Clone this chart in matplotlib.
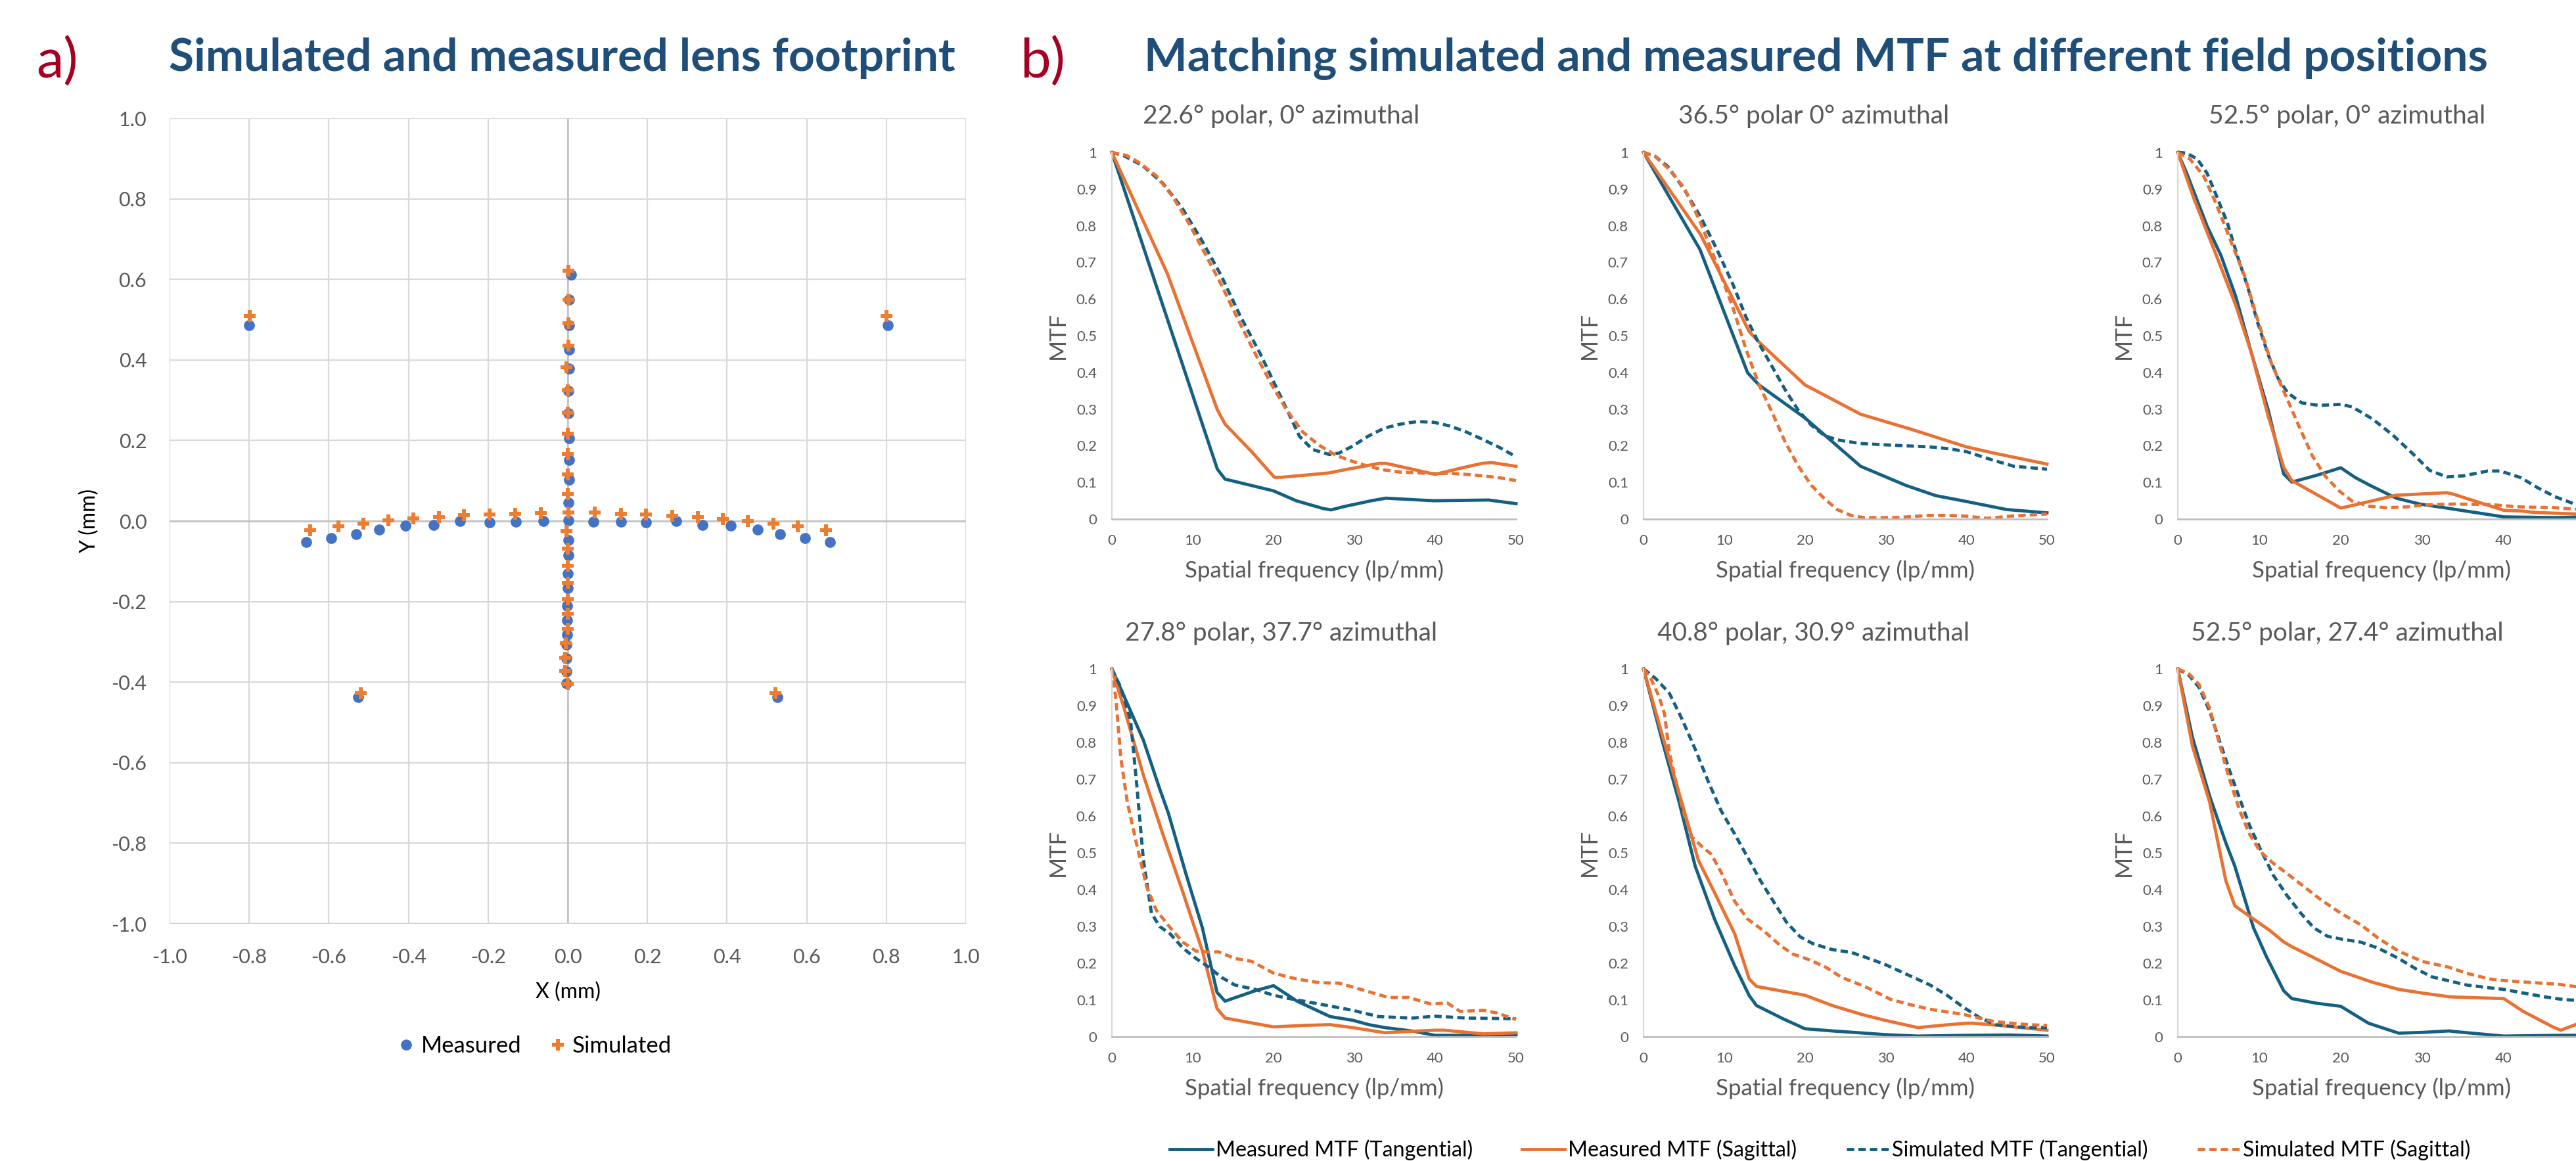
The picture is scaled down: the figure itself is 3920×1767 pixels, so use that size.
import matplotlib
matplotlib.use("Agg")
import matplotlib.pyplot as plt

plt.rcParams['font.family'] = ['Lato', 'DejaVu Sans']

# ---------------- Panel a data (lens footprint, mm) ----------------
MEAS_CORNER_X = [-0.801, 0.804, -0.526, 0.527]
MEAS_CORNER_Y = [0.486, 0.486, -0.438, -0.438]
SIM_CORNER_X = [-0.799, 0.800, -0.519, 0.521]
SIM_CORNER_Y = [0.509, 0.509, -0.428, -0.428]

MEAS_ROW_X = [-0.656, -0.594, -0.532, -0.474, -0.407, -0.336, -0.270, -0.196, -0.130, -0.061,
              0.064, 0.133, 0.197, 0.273, 0.338, 0.409, 0.477, 0.533, 0.596, 0.658]
MEAS_ROW_Y = [-0.053, -0.043, -0.033, -0.022, -0.012, -0.010, 0.000, -0.004, -0.002, 0.000,
              -0.001, -0.002, -0.004, 0.000, -0.010, -0.012, -0.022, -0.033, -0.043, -0.053]
SIM_ROW_X = [-0.647, -0.576, -0.513, -0.450, -0.387, -0.324, -0.261, -0.196, -0.132, -0.068,
             0.068, 0.133, 0.197, 0.262, 0.326, 0.390, 0.452, 0.516, 0.578, 0.649]
SIM_ROW_Y = [-0.023, -0.013, -0.007, 0.002, 0.007, 0.010, 0.014, 0.016, 0.018, 0.019,
             0.021, 0.018, 0.017, 0.013, 0.010, 0.005, 0.000, -0.007, -0.013, -0.023]

MEAS_COL_X = [0.008, 0.003, 0.003, 0.003, 0.003, 0.002, 0.002, 0.003, 0.004, 0.004, 0.002, 0.002,
              0.001, 0.001, 0.000, 0.000, -0.001, -0.001, -0.002, -0.003, -0.003, -0.004, -0.003]
MEAS_COL_Y = [0.611, 0.550, 0.486, 0.425, 0.379, 0.323, 0.268, 0.206, 0.151, 0.102, 0.046, 0.002,
              -0.047, -0.085, -0.131, -0.166, -0.210, -0.247, -0.283, -0.307, -0.341, -0.373, -0.403]
SIM_COL_X = [0.002, 0.001, 0.001, 0.001, -0.003, 0.000, 0.000, 0.000, 0.000, 0.000, 0.000, 0.001,
             -0.004, 0.000, 0.000, 0.000, 0.000, 0.000, 0.000, -0.005, -0.006, -0.007, 0.000]
SIM_COL_Y = [0.621, 0.550, 0.491, 0.435, 0.381, 0.324, 0.269, 0.217, 0.167, 0.116, 0.067, 0.021,
             -0.025, -0.069, -0.111, -0.153, -0.194, -0.230, -0.268, -0.304, -0.339, -0.372, -0.404]

AXIS_TICKS_A = [-1.0, -0.8, -0.6, -0.4, -0.2, 0.0, 0.2, 0.4, 0.6, 0.8, 1.0]

# ---------------- Panel b data (MTF vs spatial frequency, lp/mm) ----------------
TITLES = ["22.6° polar, 0° azimuthal", "36.5° polar 0° azimuthal", "52.5° polar, 0° azimuthal",
          "27.8° polar, 37.7° azimuthal", "40.8° polar, 30.9° azimuthal", "52.5° polar, 27.4° azimuthal"]
SERIES_NAMES = ["Measured MTF (Tangential)", "Measured MTF (Sagittal)",
                "Simulated MTF (Tangential)", "Simulated MTF (Sagittal)"]

# Field 1: 22.6 polar, 0 azimuthal
P1_MT_X = [0, 13.05, 14.0, 20, 22.8, 26.1, 27.1, 28.7, 32.1, 33.9, 39.8, 46.6, 50]
P1_MT_Y = [1.0, 0.136, 0.109, 0.077, 0.050, 0.029, 0.025, 0.034, 0.050, 0.057, 0.050, 0.052, 0.042]
P1_MS_X = [0, 6.87, 13.05, 14.0, 17.2, 20.1, 21, 24, 26.9, 28.7, 33.1, 33.9, 40, 43, 45.8, 47, 50]
P1_MS_Y = [1, 0.669, 0.298, 0.259, 0.186, 0.114, 0.114, 0.12, 0.126, 0.134, 0.152, 0.152, 0.122, 0.138, 0.152, 0.154, 0.144]
P1_ST_X = [0, 1.4, 3.8, 6.3, 8.7, 11.1, 13.5, 15.9, 18.4, 20.8, 23.2, 24.8, 26.9, 28.1, 29.7, 31.7, 33.7,
           35.7, 37.8, 39.8, 41.8, 43.8, 45.8, 47.9, 50]
P1_ST_Y = [1, 0.992, 0.964, 0.916, 0.848, 0.761, 0.665, 0.553, 0.449, 0.338, 0.226, 0.190, 0.176, 0.180,
           0.198, 0.226, 0.248, 0.259, 0.266, 0.264, 0.254, 0.238, 0.218, 0.196, 0.170]
P1_SS_X = [0, 1.8, 3.4, 5.5, 7.5, 9.5, 11.5, 13.5, 15.5, 17.6, 19.6, 21.6, 23.6, 25.6, 27.7, 29.7, 31.7,
           33.7, 35.7, 37.8, 39.8, 41.8, 43.8, 45.8, 47.9, 50]
P1_SS_Y = [1, 0.992, 0.972, 0.936, 0.880, 0.808, 0.725, 0.641, 0.549, 0.457, 0.373, 0.298, 0.238, 0.202,
           0.174, 0.158, 0.144, 0.134, 0.128, 0.126, 0.124, 0.125, 0.122, 0.118, 0.113, 0.105]

# Field 2: 36.5 polar, 0 azimuthal
P2_MT_X = [0, 7.0, 12.9, 14.3, 20, 26.9, 32.5, 36.2, 40, 45, 50]
P2_MT_Y = [1, 0.735, 0.399, 0.366, 0.276, 0.144, 0.092, 0.064, 0.048, 0.026, 0.017]
P2_MS_X = [0, 7.1, 13.1, 14.3, 20, 26.9, 33.3, 40, 43.4, 50]
P2_MS_Y = [1, 0.775, 0.511, 0.483, 0.366, 0.286, 0.244, 0.197, 0.180, 0.150]
P2_ST_X = [0, 1.4, 3.0, 5.05, 7.1, 9.1, 11.1, 12.7, 14.3, 15.96, 17.6, 19.2, 20.8, 22.4, 24.0, 26.9, 31.3,
           35.4, 37.8, 40, 43.4, 45.9, 50]
P2_ST_Y = [1, 0.990, 0.962, 0.899, 0.823, 0.735, 0.639, 0.551, 0.479, 0.415, 0.351, 0.296, 0.256, 0.228,
           0.216, 0.206, 0.201, 0.197, 0.192, 0.184, 0.160, 0.144, 0.136]
P2_SS_X = [0, 1.4, 3.0, 5.05, 7.1, 9.1, 11.1, 12.7, 14.3, 16.0, 17.6, 19.2, 20.8, 22.4, 24.0, 25.7, 27.3,
           31.3, 35.4, 37.8, 40, 42.6, 45.5, 50]
P2_SS_Y = [1, 0.990, 0.958, 0.903, 0.807, 0.695, 0.575, 0.463, 0.367, 0.288, 0.208, 0.144, 0.092, 0.056,
           0.026, 0.010, 0.004, 0.004, 0.010, 0.010, 0.008, 0.002, 0.008, 0.014]

# Field 3: 52.5 polar, 0 azimuthal
P3_MT_X = [0, 1.1, 3.6, 5.3, 7.1, 9.0, 11.1, 13.0, 14.0, 16.0, 17.3, 20, 21.8, 23.5, 26.8, 29.7, 33.0,
           35.9, 40, 46.3, 50]
P3_MT_Y = [1, 0.943, 0.799, 0.719, 0.608, 0.456, 0.297, 0.123, 0.101, 0.113, 0.121, 0.140, 0.113, 0.093,
           0.057, 0.041, 0.030, 0.020, 0.006, 0.004, 0.006]
P3_MS_X = [0, 1.9, 3.6, 5.3, 7.1, 9, 11.1, 13.0, 14.0, 20, 21.4, 26.8, 33.0, 33.8, 40, 42.1, 43.8, 50]
P3_MS_Y = [1, 0.879, 0.783, 0.687, 0.584, 0.456, 0.281, 0.141, 0.105, 0.030, 0.037, 0.065, 0.072, 0.068,
           0.024, 0.022, 0.018, 0.013]
P3_ST_X = [0, 1.1, 2.4, 3.6, 4.8, 6.1, 7.3, 8.6, 9.8, 11.1, 12.3, 13.5, 15.2, 17.3, 20, 21.4, 23.9, 26.4,
           28.9, 30.9, 33.0, 35.1, 38.0, 39.6, 42.1, 44.2, 46.3, 48.7, 50]
P3_ST_Y = [1, 0.998, 0.982, 0.943, 0.879, 0.807, 0.719, 0.632, 0.536, 0.448, 0.384, 0.344, 0.317, 0.310,
           0.313, 0.306, 0.273, 0.229, 0.177, 0.133, 0.115, 0.118, 0.131, 0.131, 0.113, 0.085, 0.061,
           0.041, 0.033]
P3_SS_X = [0, 1.5, 3.2, 4.8, 6.5, 8.2, 9.8, 11.5, 13.1, 14.8, 16.5, 18.1, 19.8, 21.4, 23.5, 25.5, 28.0,
           30.5, 33.8, 38.0, 42.1, 46.3, 50]
P3_SS_Y = [1, 0.982, 0.935, 0.855, 0.759, 0.663, 0.544, 0.424, 0.344, 0.257, 0.173, 0.117, 0.077, 0.049,
           0.035, 0.031, 0.033, 0.039, 0.041, 0.040, 0.033, 0.031, 0.025]

# Field 4: 27.8 polar, 37.7 azimuthal
P4_MT_X = [0, 1.5, 3.9, 5.9, 7.0, 9.2, 11.2, 13.0, 14.0, 17.7, 20, 22.9, 27.0, 29.8, 31.8, 33.8, 37.1,
           40, 48, 50]
P4_MT_Y = [1, 0.926, 0.806, 0.675, 0.607, 0.440, 0.296, 0.121, 0.097, 0.125, 0.139, 0.097, 0.055, 0.045,
           0.033, 0.025, 0.016, 0.004, 0.004, 0.006]
P4_MS_X = [0, 1.5, 3.9, 6.3, 8.8, 11.2, 13.0, 14.0, 20, 23.7, 27.0, 29.8, 33.8, 37.1, 40, 41.1, 46, 50]
P4_MS_Y = [1, 0.894, 0.711, 0.551, 0.392, 0.233, 0.077, 0.051, 0.027, 0.031, 0.033, 0.025, 0.011, 0.015,
           0.018, 0.018, 0.008, 0.011]
P4_ST_X = [0, 1.1, 2.3, 3.1, 3.9, 4.9, 5.9, 7.2, 8.8, 10.4, 12.0, 13.6, 15.2, 17.7, 20, 21.7, 25.7, 29.8,
           33.0, 37.1, 40, 43.9, 50]
P4_ST_Y = [1, 0.950, 0.862, 0.679, 0.480, 0.336, 0.300, 0.280, 0.241, 0.213, 0.189, 0.161, 0.141, 0.129,
           0.113, 0.105, 0.089, 0.072, 0.055, 0.051, 0.056, 0.051, 0.049]
P4_SS_X = [0, 0.5, 1.1, 1.9, 3.1, 4.3, 5.5, 7.2, 8.8, 10.4, 12.0, 13.2, 15.2, 17.3, 20, 22.9, 25.7, 28.1,
           31.4, 34.2, 36.7, 39.5, 41.5, 43.1, 46, 47.6, 50]
P4_SS_Y = [1, 0.918, 0.759, 0.639, 0.520, 0.408, 0.344, 0.297, 0.257, 0.233, 0.230, 0.231, 0.213, 0.205,
           0.173, 0.157, 0.147, 0.146, 0.125, 0.107, 0.107, 0.089, 0.092, 0.069, 0.072, 0.065, 0.047]

# Field 5: 40.8 polar, 30.9 azimuthal
P5_MT_X = [0, 2.3, 4.4, 6.4, 8.8, 11.3, 13.1, 14.0, 17.3, 20, 23.4, 27.4, 29.9, 34, 40, 45.3, 50]
P5_MT_Y = [1, 0.806, 0.639, 0.464, 0.320, 0.193, 0.112, 0.085, 0.049, 0.022, 0.016, 0.010, 0.006, 0.002,
           0.004, 0.005, 0.002]
P5_MS_X = [0, 2.3, 4.4, 6.8, 8.8, 11.3, 13.1, 14.0, 20, 23.4, 27.0, 29.9, 34, 36.8, 40, 40.8, 43.6, 50]
P5_MS_Y = [1, 0.822, 0.663, 0.480, 0.392, 0.280, 0.157, 0.137, 0.113, 0.085, 0.061, 0.045, 0.025, 0.031,
           0.037, 0.037, 0.032, 0.018]
P5_ST_X = [0, 1.5, 3.2, 4.8, 6.4, 8.0, 9.6, 11.3, 12.9, 14.5, 16.1, 17.7, 19.4, 21.0, 23.4, 25.8, 27.4,
           29.9, 32.7, 35.5, 37.6, 39.6, 41.6, 43.6, 45.7, 47.7, 50]
P5_ST_Y = [1, 0.974, 0.934, 0.862, 0.782, 0.695, 0.615, 0.551, 0.488, 0.424, 0.368, 0.312, 0.272, 0.253,
           0.237, 0.229, 0.217, 0.197, 0.169, 0.141, 0.113, 0.081, 0.053, 0.033, 0.028, 0.025, 0.025]
P5_SS_X = [0, 0.9, 1.9, 2.6, 3.2, 4.0, 5.0, 6.0, 7.2, 8.4, 9.6, 11.3, 12.9, 14.9, 16.9, 18.5, 20.6, 22.6,
           24.6, 27.4, 30.7, 33.5, 35.5, 39.6, 43.6, 47.7, 50]
P5_SS_Y = [1, 0.974, 0.926, 0.878, 0.773, 0.695, 0.607, 0.543, 0.518, 0.496, 0.448, 0.368, 0.320, 0.288,
           0.249, 0.225, 0.209, 0.189, 0.161, 0.137, 0.101, 0.085, 0.075, 0.061, 0.041, 0.033, 0.031]

# Field 6: 52.5 polar, 27.4 azimuthal
P6_MT_X = [0, 1.8, 3.9, 5.9, 7.0, 9.3, 10.9, 13.0, 14.0, 17.1, 20, 23.4, 27.1, 30, 33.3, 34.1, 40, 46.6, 50]
P6_MT_Y = [1, 0.814, 0.655, 0.527, 0.464, 0.296, 0.217, 0.125, 0.104, 0.091, 0.083, 0.037, 0.010, 0.012,
           0.016, 0.014, 0.002, 0.004, 0.004]
P6_MS_X = [0, 1.8, 3.9, 5.9, 7.0, 9.3, 11.3, 13.0, 14.0, 17.6, 20, 23.8, 27.1, 30, 33.3, 34.1, 40, 42.4,
           44.9, 46.2, 47, 49.4, 50]
P6_MS_Y = [1, 0.790, 0.639, 0.424, 0.356, 0.320, 0.289, 0.258, 0.245, 0.205, 0.178, 0.149, 0.129, 0.119,
           0.109, 0.108, 0.104, 0.069, 0.040, 0.025, 0.018, 0.038, 0.045]
P6_ST_X = [0, 1.4, 2.6, 3.9, 5.1, 6.3, 7.6, 8.8, 10.1, 11.7, 13.4, 15.1, 16.7, 18.4, 20, 22.5, 24.6, 27.1,
           29.2, 31.2, 33.3, 35.4, 38.3, 40, 42.4, 44.9, 47.4, 50]
P6_ST_Y = [1, 0.982, 0.950, 0.886, 0.806, 0.727, 0.647, 0.575, 0.512, 0.440, 0.384, 0.336, 0.296, 0.273,
           0.266, 0.257, 0.241, 0.213, 0.185, 0.163, 0.152, 0.141, 0.133, 0.129, 0.119, 0.109, 0.101, 0.098]
P6_SS_X = [0, 1.4, 2.6, 3.9, 5.1, 6.3, 7.6, 8.8, 10.1, 11.7, 13.4, 15.5, 17.6, 20, 22.5, 24.6, 27.1, 30,
           33.3, 35.4, 38.3, 40, 42.4, 46.6, 50]
P6_SS_Y = [1, 0.986, 0.958, 0.894, 0.798, 0.703, 0.615, 0.551, 0.504, 0.472, 0.444, 0.408, 0.372, 0.336,
           0.304, 0.268, 0.233, 0.205, 0.189, 0.173, 0.157, 0.153, 0.149, 0.143, 0.133]

FIELDS = [
    (P1_MT_X, P1_MT_Y, P1_MS_X, P1_MS_Y, P1_ST_X, P1_ST_Y, P1_SS_X, P1_SS_Y),
    (P2_MT_X, P2_MT_Y, P2_MS_X, P2_MS_Y, P2_ST_X, P2_ST_Y, P2_SS_X, P2_SS_Y),
    (P3_MT_X, P3_MT_Y, P3_MS_X, P3_MS_Y, P3_ST_X, P3_ST_Y, P3_SS_X, P3_SS_Y),
    (P4_MT_X, P4_MT_Y, P4_MS_X, P4_MS_Y, P4_ST_X, P4_ST_Y, P4_SS_X, P4_SS_Y),
    (P5_MT_X, P5_MT_Y, P5_MS_X, P5_MS_Y, P5_ST_X, P5_ST_Y, P5_SS_X, P5_SS_Y),
    (P6_MT_X, P6_MT_Y, P6_MS_X, P6_MS_Y, P6_ST_X, P6_ST_Y, P6_SS_X, P6_SS_Y),
]
MTF_XTICKS = [0, 10, 20, 30, 40, 50]
MTF_XTICKLABELS = ["0", "10", "20", "30", "40", "50"]
MTF_YTICKS = [0, 0.1, 0.2, 0.3, 0.4, 0.5, 0.6, 0.7, 0.8, 0.9, 1.0]
MTF_YTICKLABELS = ["0", "0.1", "0.2", "0.3", "0.4", "0.5", "0.6", "0.7", "0.8", "0.9", "1"]

# ---------------- Styles ----------------
W, H, DPI = 3920, 1767, 200
BLUE_A, ORANGE_A = "#4472C4", "#ED7D31"
BLUE_B, ORANGE_B = "#156082", "#E97132"
TITLE_COL, LABEL_COL = "#1F4E79", "#A50021"
TICK_COL = "#595959"
GRID_COL = "#D9D9D9"

fig = plt.figure(figsize=(W / DPI, H / DPI), dpi=DPI)


def add_axes_px(x0, x1, ytop, ybot):
    return fig.add_axes([x0 / W, 1 - ybot / H, (x1 - x0) / W, (ybot - ytop) / H])


def fy(py):
    return 1 - py / H


# ---------------- Panel a ----------------
axa = add_axes_px(258, 1470, 180, 1406)
axa.set_xlim(-1, 1)
axa.set_ylim(-1, 1)
axa.set_xticks(AXIS_TICKS_A)
axa.set_yticks(AXIS_TICKS_A)
axa.set_xticklabels([f"{t:.1f}" for t in AXIS_TICKS_A])
axa.set_yticklabels([f"{t:.1f}" for t in AXIS_TICKS_A])
axa.grid(True, color=GRID_COL, lw=0.8, zorder=0)
axa.set_axisbelow(True)
for s in axa.spines.values():
    s.set_visible(False)
axa.axhline(0, color="#BFBFBF", lw=0.9, zorder=1)
axa.axvline(0, color="#BFBFBF", lw=0.9, zorder=1)
axa.axhline(-1, color="#D0D0D0", lw=1.2, zorder=1)
axa.tick_params(length=0, labelsize=11, labelcolor=TICK_COL, pad=12.5)
axa.tick_params(axis='x', pad=13.5)

meas_x = MEAS_CORNER_X + MEAS_ROW_X + MEAS_COL_X
meas_y = MEAS_CORNER_Y + MEAS_ROW_Y + MEAS_COL_Y
sim_x = SIM_CORNER_X + SIM_ROW_X + SIM_COL_X
sim_y = SIM_CORNER_Y + SIM_ROW_Y + SIM_COL_Y
h_meas, = axa.plot(meas_x, meas_y, ls="none", marker="o", ms=5.0, mfc=BLUE_A, mec=BLUE_A, zorder=3)
h_sim, = axa.plot(sim_x, sim_y, ls="none", marker="P", ms=6.5, mfc=ORANGE_A, mec=ORANGE_A, mew=0, zorder=4)
axa.set_xlabel("X (mm)", fontsize=11.5, color="#000000")
axa.set_ylabel("Y (mm)", fontsize=11.5, color="#000000")
axa.xaxis.set_label_coords(0.5, (1406 - 1510) / (1406 - 180))
axa.yaxis.set_label_coords((136 - 258) / (1470 - 258), 0.5)
axa.xaxis.label.set_va("center")
axa.yaxis.label.set_va("center")

fig.legend(handles=[h_meas, h_sim], labels=["Measured", "Simulated"], loc="center",
           bbox_to_anchor=(815 / W, fy(1592)), ncol=2, frameon=False, fontsize=12.5,
           handlelength=0.6, handletextpad=0.35, columnspacing=1.3)

# ---------------- Panel b ----------------
COL_X0 = [1692, 2501, 3314]
COL_X1 = [2307, 3115, 3934]
ROW_YT = [232, 1018]
ROW_YB = [790, 1578]
TITLE_XC = [1950, 2760, 3572]
TITLE_BASE = [188, 975]

styles = [
    dict(color=BLUE_B, ls="-"),
    dict(color=ORANGE_B, ls="-"),
    dict(color=BLUE_B, ls=(0, (2.3, 1.3))),
    dict(color=ORANGE_B, ls=(0, (2.3, 1.3))),
]

handles = None
for i, field in enumerate(FIELDS):
    r, c = divmod(i, 3)
    ax = add_axes_px(COL_X0[c], COL_X1[c], ROW_YT[r], ROW_YB[r])
    lines = []
    for k in range(4):
        ln, = ax.plot(field[2 * k], field[2 * k + 1], lw=1.75, solid_joinstyle="round",
                      dash_capstyle="butt", clip_on=False, **styles[k])
        lines.append(ln)
    ax.set_xlim(0, 50)
    ax.set_ylim(0, 1)
    ax.set_xticks(MTF_XTICKS)
    # the right-hand column runs past the picture's edge, so its "50" label is not visible
    ax.set_xticklabels(MTF_XTICKLABELS if c < 2 else MTF_XTICKLABELS[:-1] + [""])
    ax.set_yticks(MTF_YTICKS)
    ax.set_yticklabels(MTF_YTICKLABELS)
    for side in ("top", "right"):
        ax.spines[side].set_visible(False)
    ax.spines["left"].set_color("#D9D9D9")
    ax.spines["left"].set_linewidth(0.8)
    ax.spines["bottom"].set_color("#BFBFBF")
    ax.spines["bottom"].set_linewidth(1.0)
    ax.tick_params(length=0, labelsize=8, labelcolor=TICK_COL, pad=8.3)
    ax.set_ylabel("MTF", fontsize=12.5, color=TICK_COL)
    ax.set_xlabel("Spatial frequency (lp/mm)", fontsize=12.5, color=TICK_COL)
    span_x = COL_X1[c] - COL_X0[c]
    span_y = ROW_YB[r] - ROW_YT[r]
    ax.yaxis.set_label_coords(-82 / span_x, 0.5)
    ax.xaxis.set_label_coords(0.5, -78 / span_y)
    ax.xaxis.label.set_va("center")
    ax.yaxis.label.set_va("center")
    fig.text(TITLE_XC[c] / W, fy(TITLE_BASE[r]), TITLES[i], ha="center", va="baseline",
             fontsize=14, color=TICK_COL)
    if handles is None:
        handles = lines

fig.legend(handles=handles, labels=SERIES_NAMES, loc="center", bbox_to_anchor=(2770 / W, fy(1750)),
           ncol=4, frameon=False, fontsize=11.6, handlelength=2.0, handletextpad=0.15,
           columnspacing=2.35)

# ---------------- Titles ----------------
fig.text(55 / W, fy(119), "a)", fontsize=30, color=LABEL_COL, ha="left", va="baseline")
fig.text(855 / W, fy(108), "Simulated and measured lens footprint", fontsize=25, fontweight="bold",
         color=TITLE_COL, ha="center", va="baseline")
fig.text(1552 / W, fy(119), "b)", fontsize=30, color=LABEL_COL, ha="left", va="baseline")
fig.text(2763 / W, fy(108), "Matching simulated and measured MTF at different field positions",
         fontsize=25, fontweight="bold", color=TITLE_COL, ha="center", va="baseline")

fig.savefig("out.png", dpi=DPI)
